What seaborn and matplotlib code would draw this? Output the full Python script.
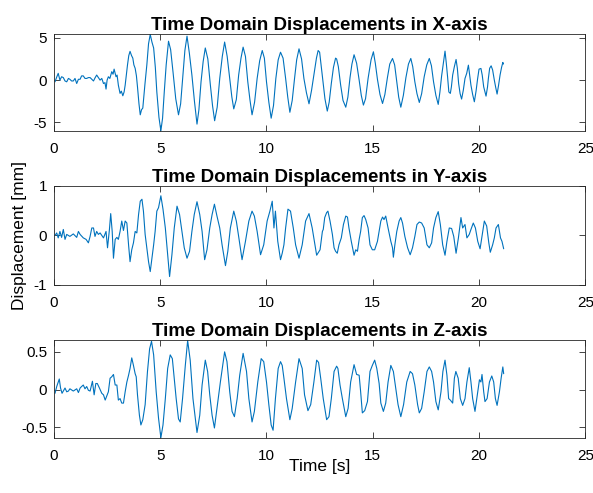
import matplotlib
matplotlib.use('Agg')
import matplotlib.pyplot as plt
import pandas as pd
import seaborn as sns

# samples: (time [s], displacement [mm])
x_samples = [
    (0.05, -0.2), (0.12, 0.3), (0.20, 0.8), (0.28, 0.0), (0.36, 0.4), (0.44, 0.3), (0.52, -0.1),
    (0.60, -0.2), (0.68, 0.2), (0.75, 0.1), (0.83, -0.1), (0.91, -0.1), (0.99, 0.2), (1.07, -0.4),
    (1.15, 0.1), (1.23, 0.1), (1.30, 0.5), (1.38, 0.5), (1.46, 0.2), (1.54, 0.2), (1.62, 0.3),
    (1.70, 0.3), (1.78, 0.1), (1.86, -0.1), (1.94, 0.3), (2.01, 0.6), (2.09, 0.3), (2.17, 0.0),
    (2.25, 0.2), (2.33, -0.4), (2.40, -0.3), (2.45, -1.06), (2.50, 0.0), (2.56, 0.4), (2.63, 0.2),
    (2.72, 1.0), (2.78, 0.7), (2.83, 1.3), (2.88, 0.8), (2.92, 0.4), (2.97, 0.6), (3.03, -0.6),
    (3.11, -1.57), (3.17, -1.3), (3.24, -1.85), (3.30, -1.4), (3.35, -0.6), (3.46, 1.8), (3.52, 2.9),
    (3.58, 3.4), (3.65, 2.9), (3.71, 2.6), (3.76, 1.8), (3.82, 1.4), (3.88, 0.5), (3.93, -0.8),
    (4.00, -2.8), (4.06, -4.1), (4.12, -3.5), (4.18, -3.3), (4.28, -0.5), (4.37, 1.8), (4.45, 4.3),
    (4.53, 5.4), (4.61, 4.5), (4.69, 3.8), (4.77, 1.5), (4.84, -1.4), (4.94, -4.4), (5.03, -6.0),
    (5.11, -4.5), (5.19, -1.4), (5.28, 1.8), (5.39, 4.6), (5.49, 3.6), (5.60, 1.0), (5.73, -2.2),
    (5.86, -4.1), (5.96, -2.8), (6.07, 0.6), (6.16, 3.5), (6.26, 5.2), (6.37, 3.2), (6.49, 0.6),
    (6.61, -2.5), (6.73, -5.2), (6.82, -3.5), (6.92, -0.2), (7.02, 2.2), (7.12, 3.8), (7.24, 2.5),
    (7.36, -0.6), (7.46, -3.0), (7.56, -4.8), (7.68, -3.2), (7.80, 0.2), (7.92, 2.8), (8.03, 4.5),
    (8.15, 2.8), (8.27, 0.2), (8.37, -2.0), (8.46, -3.4), (8.58, -2.3), (8.69, 0.6), (8.80, 2.6),
    (8.90, 3.9), (9.01, 2.8), (9.12, -0.2), (9.22, -2.3), (9.32, -4.1), (9.44, -2.6), (9.56, 0.2),
    (9.68, 2.3), (9.80, 3.5), (9.90, 2.6), (10.00, -0.2), (10.11, -2.6), (10.22, -4.5), (10.33, -3.0),
    (10.44, 0.2), (10.55, 2.4), (10.66, 3.3), (10.78, 2.6), (10.90, 0.2), (11.00, -2.0), (11.10, -3.8),
    (11.21, -2.4), (11.32, 0.2), (11.42, 2.4), (11.53, 3.7), (11.65, 2.5), (11.76, 0.2), (11.88, -1.5),
    (12.00, -2.8), (12.12, -1.2), (12.23, 0.6), (12.35, 2.6), (12.43, 3.5), (12.50, 3.3), (12.63, 0.4),
    (12.75, -2.2), (12.86, -3.66), (12.95, -2.6), (13.05, -0.4), (13.15, 1.5), (13.25, 2.6), (13.30, 2.5),
    (13.38, 1.6), (13.49, -0.6), (13.60, -2.4), (13.73, -3.2), (13.83, -2.0), (13.93, 0.3), (14.02, 1.9),
    (14.12, 3.0), (14.24, 2.0), (14.36, 0.0), (14.46, -1.8), (14.56, -2.95), (14.66, -2.2), (14.78, 0.2),
    (14.92, 2.4), (15.03, 3.35), (15.12, 2.0), (15.22, 0.1), (15.34, -1.7), (15.46, -2.76), (15.57, -1.7),
    (15.69, 0.3), (15.80, 1.9), (15.93, 2.56), (16.03, 1.8), (16.13, -0.2), (16.22, -2.0), (16.32, -3.2),
    (16.44, -1.8), (16.56, 0.3), (16.68, 1.9), (16.79, 2.56), (16.88, 1.6), (16.98, -0.2), (17.08, -1.6),
    (17.19, -2.64), (17.30, -1.6), (17.42, 0.4), (17.54, 1.8), (17.66, 2.56), (17.76, 1.7), (17.86, -0.2),
    (17.97, -1.8), (18.08, -2.87), (18.16, -1.4), (18.24, 0.5), (18.32, 2.0), (18.40, 3.43), (18.46, 2.0),
    (18.52, 0.4), (18.58, -1.4), (18.65, -1.57), (18.70, -0.8), (18.76, 0.6), (18.84, 1.6), (18.92, 2.44),
    (18.98, 1.4), (19.04, -0.4), (19.11, -1.6), (19.18, -2.24), (19.26, -1.2), (19.34, 0.2), (19.42, 0.8),
    (19.50, 1.77), (19.56, 0.6), (19.62, -0.6), (19.70, -1.7), (19.78, -2.56), (19.86, -1.3), (19.93, 0.1),
    (20.00, 1.3), (20.09, 1.38), (20.15, 0.6), (20.22, -0.8), (20.28, -1.4), (20.33, -1.89), (20.40, -0.8),
    (20.44, 0.2), (20.50, 1.4), (20.57, 1.69), (20.64, 1.2), (20.72, 0.0), (20.78, -0.8), (20.85, -1.65),
    (20.92, -0.6), (20.99, 0.6), (21.06, 1.5), (21.12, 2.09), (21.15, 1.9),
]

y_samples = [
    (0.05, 0.00), (0.13, 0.05), (0.20, -0.05), (0.28, 0.08), (0.36, -0.04), (0.44, 0.12), (0.52, -0.08),
    (0.60, 0.02), (0.75, -0.02), (0.91, 0.03), (1.07, -0.04), (1.15, 0.08), (1.23, 0.02), (1.38, -0.05),
    (1.51, -0.08), (1.62, -0.15), (1.70, -0.02), (1.78, 0.15), (1.86, 0.15), (1.93, -0.02), (2.01, 0.08),
    (2.09, 0.02), (2.17, 0.05), (2.33, -0.05), (2.45, 0.08), (2.52, -0.25), (2.61, 0.12), (2.67, 0.44),
    (2.74, 0.08), (2.80, -0.46), (2.88, -0.08), (2.96, -0.04), (3.03, -0.08), (3.11, 0.08), (3.19, 0.29),
    (3.27, 0.10), (3.35, 0.29), (3.43, 0.25), (3.51, -0.19), (3.58, -0.53), (3.66, -0.29), (3.74, -0.15),
    (3.82, 0.08), (3.90, 0.05), (3.98, 0.42), (4.06, 0.69), (4.14, 0.73), (4.21, 0.49), (4.29, 0.02),
    (4.37, -0.25), (4.45, -0.53), (4.53, -0.73), (4.61, -0.46), (4.69, -0.19), (4.76, 0.08), (4.84, 0.49),
    (4.92, 0.56), (5.03, 0.80), (5.13, 0.53), (5.24, 0.15), (5.31, -0.19), (5.44, -0.83), (5.55, -0.39),
    (5.66, 0.15), (5.79, 0.59), (5.91, 0.42), (6.02, 0.08), (6.13, -0.25), (6.26, -0.46), (6.38, -0.32),
    (6.49, 0.08), (6.60, 0.42), (6.73, 0.68), (6.86, 0.42), (6.97, 0.08), (7.09, -0.49), (7.20, -0.29),
    (7.33, 0.15), (7.44, 0.42), (7.55, 0.63), (7.67, 0.39), (7.80, 0.15), (7.91, -0.19), (8.07, -0.61),
    (8.18, -0.32), (8.30, 0.15), (8.46, 0.49), (8.58, 0.29), (8.70, -0.05), (8.85, -0.49), (9.01, -0.12),
    (9.17, 0.29), (9.32, 0.49), (9.43, 0.39), (9.56, 0.08), (9.72, -0.39), (9.87, -0.19), (10.03, 0.29),
    (10.16, 0.49), (10.27, 0.69), (10.35, 0.15), (10.42, 0.49), (10.53, -0.12), (10.66, -0.49), (10.74, -0.36),
    (10.82, -0.19), (10.90, 0.15), (11.01, 0.53), (11.13, 0.49), (11.26, 0.15), (11.37, -0.19), (11.53, -0.46),
    (11.68, -0.19), (11.84, 0.29), (12.00, 0.44), (12.15, 0.15), (12.28, -0.19), (12.36, -0.40), (12.52, -0.29),
    (12.63, 0.08), (12.67, 0.12), (12.74, 0.36), (12.83, 0.46), (12.89, 0.49), (12.99, 0.29), (13.10, 0.02),
    (13.18, -0.25), (13.25, -0.32), (13.33, -0.36), (13.41, -0.19), (13.52, -0.05), (13.62, 0.22), (13.73, 0.39),
    (13.81, 0.37), (13.88, 0.15), (13.99, -0.12), (14.12, -0.40), (14.20, -0.29), (14.28, -0.32), (14.36, -0.08),
    (14.43, 0.08), (14.51, 0.36), (14.59, 0.40), (14.67, 0.32), (14.78, 0.15), (14.87, -0.19), (14.98, -0.29),
    (15.09, -0.29), (15.22, -0.12), (15.30, 0.08), (15.38, 0.29), (15.46, 0.37), (15.53, 0.32), (15.61, 0.39),
    (15.72, 0.15), (15.85, -0.12), (15.93, -0.25), (15.97, -0.44), (16.04, -0.19), (16.13, 0.08), (16.24, 0.29),
    (16.32, 0.36), (16.40, 0.25), (16.51, -0.02), (16.64, -0.25), (16.76, -0.39), (16.87, -0.25), (16.98, -0.02),
    (17.08, 0.22), (17.19, 0.27), (17.30, 0.25), (17.42, 0.15), (17.55, -0.19), (17.66, -0.25), (17.77, -0.15),
    (17.86, 0.15), (17.97, 0.36), (18.08, 0.48), (18.18, 0.22), (18.29, -0.19), (18.40, -0.40), (18.49, -0.12),
    (18.60, 0.15), (18.71, 0.14), (18.81, -0.02), (18.92, -0.36), (19.03, -0.05), (19.15, 0.36), (19.23, 0.15),
    (19.34, 0.22), (19.43, -0.05), (19.54, 0.02), (19.62, 0.12), (19.73, 0.25), (19.83, 0.15), (19.94, -0.12),
    (20.05, -0.27), (20.13, -0.05), (20.25, 0.29), (20.36, 0.19), (20.46, -0.15), (20.53, -0.34), (20.64, -0.19),
    (20.72, -0.05), (20.80, 0.15), (20.91, 0.22), (21.01, -0.05), (21.08, -0.12), (21.16, -0.27),
]

z_samples = [
    (0.05, -0.05), (0.13, 0.04), (0.20, 0.10), (0.25, 0.14), (0.31, 0.02), (0.38, -0.05), (0.44, -0.02),
    (0.52, 0.02), (0.60, -0.03), (0.68, -0.02), (0.75, 0.01), (0.91, -0.02), (1.07, 0.01), (1.15, -0.04),
    (1.23, 0.02), (1.30, 0.04), (1.38, 0.06), (1.46, 0.01), (1.54, 0.04), (1.62, -0.01), (1.70, -0.02),
    (1.81, 0.11), (1.89, -0.07), (1.97, 0.08), (2.04, 0.08), (2.14, 0.02), (2.25, -0.05), (2.33, -0.07),
    (2.41, -0.14), (2.48, -0.09), (2.56, -0.03), (2.64, 0.15), (2.72, 0.17), (2.80, 0.20), (2.88, 0.06),
    (2.96, 0.06), (3.03, -0.14), (3.11, -0.12), (3.19, -0.18), (3.27, -0.18), (3.35, -0.03), (3.43, 0.10),
    (3.51, 0.19), (3.58, 0.28), (3.66, 0.42), (3.74, 0.32), (3.82, 0.21), (3.87, 0.17), (3.93, -0.07),
    (4.02, -0.34), (4.09, -0.47), (4.18, -0.40), (4.29, -0.20), (4.40, 0.24), (4.50, 0.54), (4.59, 0.64),
    (4.69, 0.46), (4.81, -0.03), (4.92, -0.38), (5.03, -0.64), (5.13, -0.47), (5.24, -0.12), (5.35, 0.28),
    (5.47, 0.46), (5.57, 0.41), (5.66, 0.15), (5.75, -0.12), (5.86, -0.39), (5.94, -0.43), (6.05, -0.12),
    (6.18, 0.32), (6.29, 0.65), (6.41, 0.39), (6.54, -0.12), (6.73, -0.57), (6.86, -0.34), (6.97, 0.06),
    (7.12, 0.39), (7.23, 0.24), (7.33, -0.07), (7.44, -0.34), (7.55, -0.51), (7.67, -0.25), (7.83, 0.10),
    (8.03, 0.50), (8.14, 0.37), (8.27, -0.03), (8.38, -0.29), (8.49, -0.36), (8.62, -0.12), (8.74, 0.19),
    (8.90, 0.48), (9.06, 0.24), (9.17, -0.12), (9.32, -0.43), (9.43, -0.29), (9.59, 0.10), (9.75, 0.41),
    (9.87, 0.37), (10.00, 0.10), (10.11, -0.20), (10.22, -0.47), (10.31, -0.54), (10.42, -0.12), (10.55, 0.28),
    (10.66, 0.37), (10.74, 0.32), (10.82, 0.15), (10.94, -0.12), (11.10, -0.40), (11.21, -0.25), (11.37, 0.10),
    (11.53, 0.41), (11.68, 0.28), (11.79, -0.07), (11.95, -0.28), (12.08, -0.20), (12.23, 0.10), (12.36, 0.39),
    (12.45, 0.36), (12.55, 0.15), (12.67, -0.12), (12.83, -0.40), (12.94, -0.36), (13.05, -0.12), (13.18, 0.24),
    (13.30, 0.31), (13.36, 0.28), (13.46, 0.06), (13.57, -0.12), (13.73, -0.36), (13.84, -0.25), (13.96, 0.10),
    (14.12, 0.33), (14.24, 0.20), (14.36, 0.19), (14.43, -0.03), (14.51, -0.31), (14.62, -0.28), (14.75, -0.16),
    (14.87, 0.24), (14.98, 0.32), (15.09, 0.39), (15.19, 0.28), (15.30, 0.08), (15.38, -0.18), (15.50, -0.29),
    (15.61, -0.18), (15.72, 0.10), (15.85, 0.32), (15.97, 0.24), (16.08, 0.02), (16.19, -0.20), (16.32, -0.36),
    (16.45, -0.20), (16.60, 0.10), (16.76, 0.24), (16.87, 0.21), (16.98, 0.06), (17.11, -0.20), (17.19, -0.31),
    (17.30, -0.25), (17.42, -0.03), (17.55, 0.24), (17.66, 0.30), (17.77, 0.24), (17.86, 0.10), (17.97, -0.16),
    (18.08, -0.27), (18.21, -0.03), (18.30, 0.24), (18.40, 0.39), (18.49, 0.19), (18.57, -0.12), (18.65, -0.14),
    (18.76, -0.18), (18.84, 0.15), (18.91, 0.24), (19.02, 0.15), (19.12, -0.12), (19.23, -0.21), (19.34, -0.12),
    (19.43, 0.10), (19.54, 0.29), (19.62, 0.10), (19.70, -0.12), (19.81, -0.29), (19.94, -0.03), (20.02, 0.13),
    (20.09, 0.10), (20.14, 0.20), (20.22, -0.03), (20.28, -0.16), (20.38, -0.12), (20.49, 0.10), (20.60, 0.18),
    (20.69, 0.10), (20.77, -0.12), (20.85, -0.21), (20.96, -0.03), (21.04, 0.15), (21.12, 0.30), (21.16, 0.21),
]

titles = [
    'Time Domain Displacements in X-axis',
    'Time Domain Displacements in Y-axis',
    'Time Domain Displacements in Z-axis',
]
time_ticks = [0, 5, 10, 15, 20, 25]
disp_ticks = [[-5, 0, 5], [-1, 0, 1], [-0.5, 0, 0.5]]

sns.set_theme(style='ticks')
plt.rcParams['font.family'] = ['Liberation Sans', 'DejaVu Sans']
plt.rcParams['axes.linewidth'] = 0.6

fig = plt.figure(figsize=(5.93, 4.93), dpi=100)
fig.patch.set_facecolor('white')

# axes boxes in figure fractions (left, bottom, width, height)
boxes = [
    (0.091, 0.734, 0.896, 0.197),
    (0.091, 0.422, 0.896, 0.201),
    (0.091, 0.112, 0.896, 0.198),
]
y_limits = [(-6.03, 5.45), (-1, 1), (-0.64, 0.655)]

for samples, title, ticks, box, lim in zip([x_samples, y_samples, z_samples],
                                          titles, disp_ticks, boxes, y_limits):
    df = pd.DataFrame(samples, columns=['time', 'disp'])
    ax = fig.add_axes(box)
    sns.lineplot(data=df, x='time', y='disp', ax=ax, sort=False, estimator=None,
                 color='#0072BD', linewidth=0.8)
    ax.set_xlim(0, 25)
    ax.set_ylim(*lim)
    ax.set_xticks(time_ticks)
    ax.set_yticks(ticks)
    ax.set_yticklabels([f'{t:g}' for t in ticks])
    ax.set_xlabel('')
    ax.set_ylabel('')
    ax.set_title(title, fontsize=13.5, fontweight='bold', pad=3, color='black')
    ax.tick_params(direction='in', top=True, right=True, length=4, width=0.6,
                   labelsize=11, colors='#262626', labelcolor='black')
    ax.tick_params(axis='x', pad=8)
    ax.tick_params(axis='y', pad=5)
    for s in ax.spines.values():
        s.set_color('#262626')
        s.set_linewidth(0.6)

fig.text(19.5 / 593, 1 - 236 / 493, 'Displacement [mm]', rotation=90, ha='center', va='center',
         fontsize=12.5, color='black')
fig.text(320 / 593, 1 - 466 / 493, 'Time [s]', ha='center', va='center', fontsize=12.5, color='black')

fig.savefig('out.png', dpi=100, facecolor='white')
